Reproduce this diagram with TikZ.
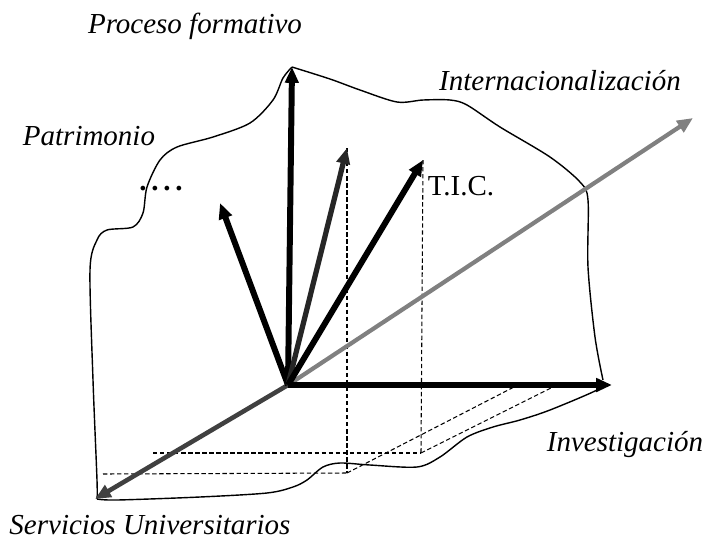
\documentclass[tikz,border=0pt]{standalone}
\usepackage{fontspec}
\setmainfont{Liberation Serif}
\usetikzlibrary{
    arrows.meta,
    positioning
}

\begin{document}
\begin{tikzpicture}[
        x=0.02cm,
        y=-0.02cm,
        >={Triangle[length=9pt,width=7.5pt]},
        vec/.style={->, line width=3.4pt},
        blob/.style={line width=0.8pt},
        proj/.style={dash pattern=on 2.5pt off 1.5pt, line width=0.6pt},
        lbl/.style={font=\fontsize{16.5}{20}\selectfont\itshape, inner sep=0pt}
    ]
    \useasboundingbox (0,0) rectangle (708,539);

    % origin and arrow tips
    \coordinate (O) at (288,385);
    \coordinate (pfT) at (292,67);
    \coordinate (intT) at (693,118);
    \coordinate (invT) at (612,385);
    \coordinate (servT) at (95,499);
    \coordinate (patT) at (220,203);
    \coordinate (midT) at (347,148);
    \coordinate (ticT) at (423,160);

    % feet of the projections
    \coordinate (midF) at (347,473);
    \coordinate (ticF) at (421,453);
    \coordinate (servA) at (103,474);
    \coordinate (servB) at (153,453);
    \coordinate (invA) at (514,387);
    \coordinate (invB) at (553,387);

    % outline
    \draw[blob] plot[smooth] coordinates {(292,67) (330,79) (360,90) (397,102)
        (423,100) (450,100) (467,105) (500,127) (550,157) (580,182) (588,200)
        (588,267) (595,337) (603,380)};
    \draw[blob] plot[smooth] coordinates {(603,382) (597,390) (550,410)
        (520,420) (493,427) (467,437) (440,457) (417,467) (370,465) (340,463)
        (323,467) (307,480) (293,487) (267,493) (200,497) (117,500) (97,499)};
    \draw[blob] plot[smooth] coordinates {(97,499) (97,480) (93,380) (90,270)
        (97,240) (107,230) (133,227) (143,213) (147,187) (160,160) (177,147)
        (213,137) (250,123) (273,100) (283,78) (292,67)};

    % projections
    \draw[proj] (midT) -- (midF);
    \draw[proj] (ticT) -- (ticF);
    \draw[proj] (servA) -- (midF);
    \draw[proj] (servB) -- (ticF);
    \draw[proj] (midF) -- (invA);
    \draw[proj] (ticF) -- (invB);

    % vectors
    \draw[vec, black!50, line width=2.4pt] (O) -- (intT);
    \draw[vec, black!75, line width=2.6pt] (O) -- (servT);
    \draw[vec] (O) -- (invT);
    \draw[vec] (O) -- (pfT);
    \draw[vec] (O) -- (patT);
    \draw[vec, black!85, line width=3pt] (O) -- (midT);
    \draw[vec] (O) -- (ticT);

    % labels
    \node[lbl] (procL) at (195,26) {Proceso formativo};
    \node[lbl] (patrL) at (89,136) {Patrimonio};
    \node[lbl, font=\fontsize{16.5}{20}\selectfont\bfseries] (dotsL) at (161,189) {.\,.\,.\,.};
    \node[lbl] (intL) at (560,81) {Internacionalización};
    \node[lbl, font=\fontsize{16.5}{20}\selectfont] (ticL) at (461,186) {T.I.C.};
    \node[lbl] (invL) at (625,445) {Investigación};
    \node[lbl] (servL) at (150,525) {Servicios Universitarios};

\end{tikzpicture}
\end{document}
